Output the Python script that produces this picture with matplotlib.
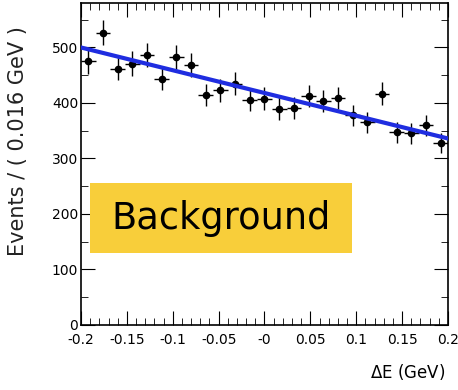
import numpy as np
import matplotlib
matplotlib.use("Agg")
import matplotlib.pyplot as plt
from matplotlib.ticker import MultipleLocator, FixedLocator
from matplotlib.patches import Rectangle

# Data
x_centers = [-0.192, -0.176, -0.160, -0.144, -0.128, -0.112, -0.096, -0.080, -0.064, -0.048,
             -0.032, -0.016, 0.000, 0.016, 0.032, 0.048, 0.064, 0.080, 0.096, 0.112,
             0.128, 0.144, 0.160, 0.176, 0.192]
events = [475, 527, 462, 471, 487, 444, 482, 468, 415, 423,
          435, 406, 408, 390, 391, 412, 403, 409, 378, 365,
          417, 347, 345, 360, 327]
y_err = [22, 23, 21, 22, 22, 21, 22, 22, 20, 21,
         21, 20, 20, 20, 20, 20, 20, 20, 19, 19,
         20, 19, 19, 19, 18]
x_err = 0.008
fit_x = [-0.2, 0.2]
fit_y = [500, 336]
x_tick_vals = [-0.2, -0.15, -0.1, -0.05, 0.0, 0.05, 0.1, 0.15, 0.2]
x_tick_text = ['-0.2', '-0.15', '-0.1', '-0.05', '-0', '0.05', '0.1', '0.15', '0.2']

fig = plt.figure(figsize=(4.58, 3.90), dpi=100)
ax = fig.add_axes([0.177, 0.167, 0.801, 0.825])

ax.errorbar(x_centers, events, yerr=y_err, xerr=x_err, fmt='o', color='black',
            ms=4.5, elinewidth=1, capsize=0, zorder=3)
ax.plot(fit_x, fit_y, color='#1f2de0', lw=3, zorder=4)

ax.set_xlim(-0.2, 0.2)
ax.set_ylim(0, 580)
ax.xaxis.set_major_locator(FixedLocator(x_tick_vals))
ax.set_xticklabels(x_tick_text)
ax.xaxis.set_minor_locator(MultipleLocator(0.01))
ax.yaxis.set_major_locator(MultipleLocator(100))
ax.yaxis.set_minor_locator(MultipleLocator(50))
ax.tick_params(which='both', direction='in', top=True, right=True, labelsize=10)
ax.tick_params(axis='x', pad=6)
ax.tick_params(axis='y', pad=2)
ax.tick_params(which='major', length=10)
ax.tick_params(which='minor', length=5)
for s in ax.spines.values():
    s.set_linewidth(1.2)

ax.set_ylabel('Events / ( 0.016 GeV )', fontsize=15, color='#222222')
ax.yaxis.set_label_coords(-0.145, 0.57)
fig.text(0.972, 0.02, r'$\Delta$E (GeV)', ha='right', va='bottom', fontsize=12)

# yellow label box
ax.add_patch(Rectangle((0.0245, 0.224), 0.714, 0.217, transform=ax.transAxes,
                       fc='#f8ce3a', ec='none', zorder=2))
ax.text(0.381, 0.332, 'Background', transform=ax.transAxes, fontsize=26.5,
        ha='center', va='center', color='black', zorder=5)

fig.savefig('out.png', dpi=100)
